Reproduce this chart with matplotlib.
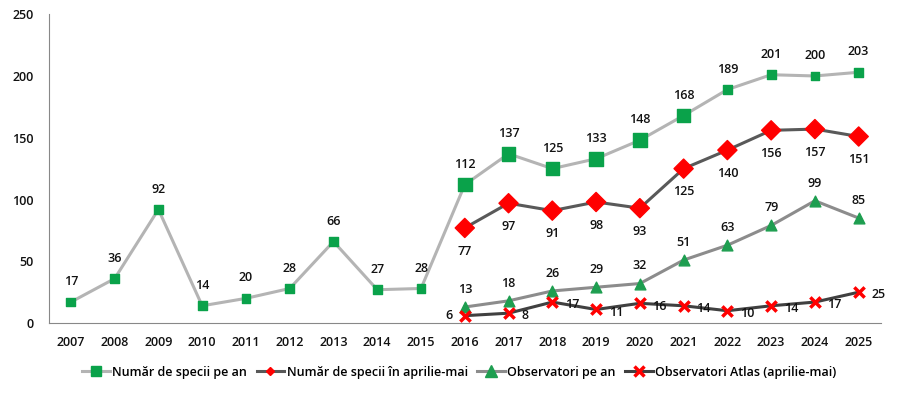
import matplotlib.pyplot as plt
from matplotlib.lines import Line2D

# data
years_all = list(range(2007, 2026))
years_atlas = list(range(2016, 2026))
specii_an = [17, 36, 92, 14, 20, 28, 66, 27, 28, 112, 137, 125, 133, 148, 168, 189, 201, 200, 203]
specii_apr = [77, 97, 91, 98, 93, 125, 140, 156, 157, 151]
obs_an = [13, 18, 26, 29, 32, 51, 63, 79, 99, 85]
obs_atlas = [6, 8, 17, 11, 16, 14, 10, 14, 17, 25]

# marker sizes (points^2), the original uses bigger markers for some years
sq_sizes = [40] * 9 + [95] * 6 + [40] * 4
dia_sizes = [95] * 10

plt.rcParams['font.family'] = ['Open Sans', 'DejaVu Sans']
plt.rcParams['font.weight'] = 'semibold'
fig = plt.figure(figsize=(8.99, 3.94), dpi=100)
ax = fig.add_axes([0.0545, 0.18, 0.925, 0.784])

green = '#0aa24a'
red = '#ff0000'
txt = '#111111'

ax.plot(years_all, specii_an, color='#b4b4b4', lw=2.2, zorder=2)
ax.scatter(years_all, specii_an, s=sq_sizes, marker='s', color=green, zorder=3)
ax.plot(years_atlas, specii_apr, color='#595959', lw=2.2, zorder=2)
ax.scatter(years_atlas, specii_apr, s=dia_sizes, marker='D', color=red, zorder=3)
ax.plot(years_atlas, obs_an, color='#8c8c8c', lw=2.2, zorder=2)
ax.scatter(years_atlas, obs_an, s=60, marker='^', color='#1e9e50', zorder=3)
ax.plot(years_atlas, obs_atlas, color='#404040', lw=2.2, zorder=2)
ax.scatter(years_atlas, obs_atlas, s=55, marker='x', color=red, linewidths=2.5, zorder=4)

fs = 9
for x, y in zip(years_all, specii_an):
    ax.annotate(str(y), (x, y), xytext=(0, 10), textcoords='offset points',
                ha='center', va='bottom', fontsize=fs, color=txt)
for x, y in zip(years_atlas, specii_apr):
    ax.annotate(str(y), (x, y), xytext=(0, -12), textcoords='offset points',
                ha='center', va='top', fontsize=fs, color=txt)
for x, y in zip(years_atlas, obs_an):
    ax.annotate(str(y), (x, y), xytext=(0, 8), textcoords='offset points',
                ha='center', va='bottom', fontsize=fs, color=txt)
for i, (x, y) in enumerate(zip(years_atlas, obs_atlas)):
    if i == 0:
        ax.annotate(str(y), (x, y), xytext=(-9, 0), textcoords='offset points',
                    ha='right', va='center', fontsize=fs, color=txt)
    else:
        ax.annotate(str(y), (x, y), xytext=(9, -2), textcoords='offset points',
                    ha='left', va='center', fontsize=fs, color=txt)

ax.set_xlim(2006.5, 2025.5)
ax.set_ylim(0, 250)
ax.set_yticks([0, 50, 100, 150, 200, 250])
ax.set_xticks(years_all)
ax.tick_params(length=0, labelsize=fs, colors=txt)
ax.tick_params(axis='x', pad=9)
ax.tick_params(axis='y', pad=11)
for s in ['top', 'right']:
    ax.spines[s].set_visible(False)
ax.spines['left'].set_color('#888888')
ax.spines['bottom'].set_color('#888888')

handles = [
    Line2D([], [], color='#b4b4b4', lw=2.2, marker='s', ms=7, mfc=green, mec=green),
    Line2D([], [], color='#595959', lw=2.2, marker='D', ms=4, mfc=red, mec=red),
    Line2D([], [], color='#8c8c8c', lw=2.2, marker='^', ms=8, mfc='#1e9e50', mec='#1e9e50'),
    Line2D([], [], color='#404040', lw=2.2, marker='x', ms=7, mec=red, mew=2.5),
]
labels = ['Număr de specii pe an', 'Număr de specii în aprilie-mai',
          'Observatori pe an', 'Observatori Atlas (aprilie-mai)']
fig.legend(handles, labels, loc='center', bbox_to_anchor=(0.511, 0.055), ncol=4,
           frameon=False, fontsize=fs, handlelength=2.2, columnspacing=0.75,
           handletextpad=0.2)

fig.savefig('out.png', dpi=100)
